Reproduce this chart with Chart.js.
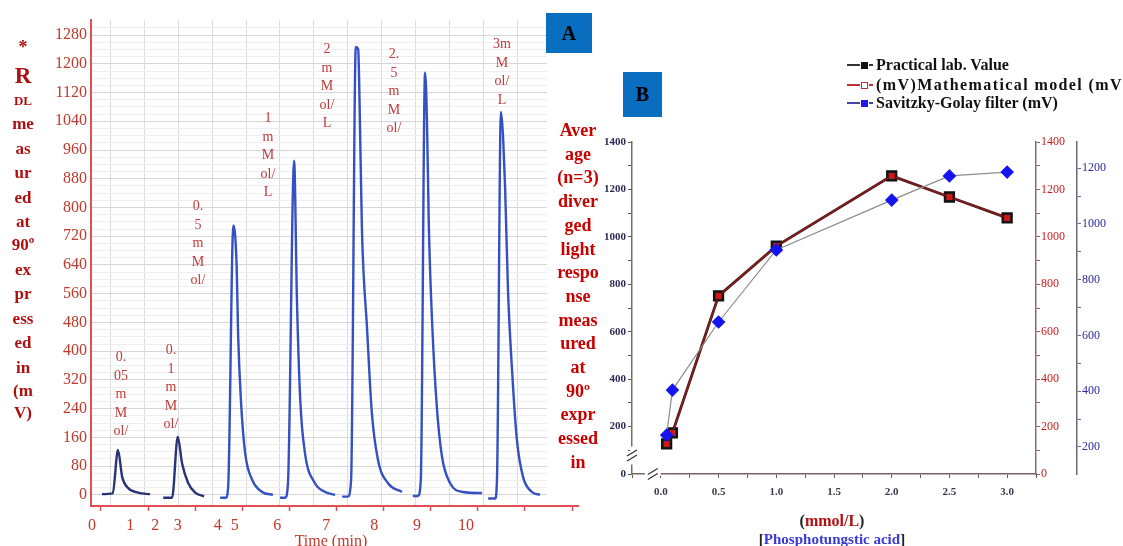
<!DOCTYPE html>
<html><head><meta charset="utf-8">
<script src="https://cdn.jsdelivr.net/npm/chart.js@4.4.1/dist/chart.umd.min.js"></script>
<style>
html,body{margin:0;padding:0;background:#fff;}
#wrap{position:relative;width:1123px;height:546px;overflow:hidden;font-family:"Liberation Serif","DejaVu Serif",serif;background:#fff;}
canvas{position:absolute;top:0;}
#cA{left:0;}
#cB{left:580px;}
.t{position:absolute;white-space:nowrap;transform:translate(-50%,-50%);line-height:1;}
.box{position:absolute;background:#0a6ec0;color:#000;font-weight:bold;display:flex;align-items:center;justify-content:center;font-size:20px;}
#cover{position:absolute;left:547px;top:0;width:40px;height:500px;background:#fff;}
.leg{position:absolute;left:847px;font-weight:bold;font-size:16px;color:#111;white-space:nowrap;display:flex;align-items:center;height:18px;}
.leg .ln{display:inline-block;width:13px;height:2px;margin-right:1px;}
.leg .sq{display:inline-block;width:7px;height:7px;box-sizing:border-box;}
.leg .ds{display:inline-block;width:4px;height:2px;margin:0 3px 0 1px;}
</style></head>
<body><div id="wrap">
<canvas id="cA" width="600" height="546"></canvas>
<div id="cover"></div>
<canvas id="cB" width="543" height="546"></canvas>
</div>
<script>
// ---------- Panel A : chromatogram peaks (time units of the axis, signal in mV) ----------
const timeP005 = [0.02, 0.25, 0.36, 0.45, 0.57, 0.79, 1.04];
const sigP005  = [2, 4, 125, 50, 20, 6, 2];
const timeP01  = [1.32, 1.51, 1.63, 1.72, 1.85, 2.00, 2.19];
const sigP01   = [-8, -8, 162, 89, 33, 6, -4];
const timeP05  = [2.53, 2.65, 2.70, 2.81, 2.88, 2.91, 2.97, 3.06, 3.21, 3.42, 3.65];
const sigP05   = [-8, -8, 22, 750, 637, 452, 265, 117, 42, 8, 0];
const timeP1   = [3.80, 3.91, 3.97, 4.10, 4.16, 4.23, 4.33, 4.54, 4.76, 4.97];
const sigP1    = [-8, -8, 33, 930, 544, 265, 117, 33, 8, 0];
const timeP2   = [5.12, 5.24, 5.31, 5.41, 5.46, 5.50, 5.54, 5.65, 5.75, 5.88, 6.09, 6.39];
const sigP2    = [-5, -5, 42, 1247, 1241, 1018, 739, 460, 229, 98, 33, 8];
const timeP25  = [6.62, 6.73, 6.79, 6.88, 6.92, 6.96, 7.03, 7.13, 7.24, 7.41, 7.69, 8.09];
const sigP25   = [-3, -3, 42, 1175, 1045, 750, 480, 245, 106, 33, 8, 5];
const timeP3   = [8.22, 8.37, 8.41, 8.49, 8.58, 8.64, 8.73, 8.83, 8.96, 9.15, 9.32];
const sigP3    = [-10, -10, 61, 1066, 851, 572, 340, 153, 50, 8, 0];

const yTicksA = [0,80,160,240,320,400,480,560,640,720,800,880,960,1040,1120,1200,1280];
const timeTickMarks = [0,1,2,3,4,5,6,7,8,9,10];
const timeLabelPos = [-0.19,0.62,1.15,1.63,2.48,2.84,3.74,4.78,5.80,6.71,7.75];
const timeLabels = ['0','1','2','3','4','5','6','7','8','9','10'];

// ---------- Panel B ----------
const concentration = [0.05, 0.1, 0.5, 1.0, 2.0, 2.5, 3.0];
const practicalLab  = [127, 173, 751, 961, 1257, 1168, 1080];
const mathModel     = [127, 173, 751, 961, 1257, 1168, 1080];
const savitzkyGolay = [164, 354, 641, 945, 1155, 1257, 1273];
const seriesNames = ['Practical lab. Value', '(mV)Mathematical model (mV)', 'Savitzky-Golay filter (mV)'];

const SERIF = '"Liberation Serif","DejaVu Serif",serif';

// ---------------- Chart A ----------------
const AX_MIN = -0.212, AX_MAX = 10.127, AY_MIN = -31, AY_MAX = 1322;
const peaks = [
  [timeP005, sigP005, '#2a3474'], [timeP01, sigP01, '#2a3474'], [timeP05, sigP05, '#3550c2'],
  [timeP1, sigP1, '#3550c2'], [timeP2, sigP2, '#3550c2'], [timeP25, sigP25, '#3550c2'], [timeP3, sigP3, '#3550c2']
];
new Chart(document.getElementById('cA'), {
  type: 'line',
  data: { datasets: peaks.map(p => ({
    data: p[0].map((t, i) => ({x: t, y: p[1][i]})),
    borderColor: p[2], borderWidth: 2.4, pointRadius: 0, fill: false,
    cubicInterpolationMode: 'monotone', xAxisID: 'x', yAxisID: 'y'
  })) },
  options: {
    responsive: false, animation: false, devicePixelRatio: 1,
    layout: { padding: { left: 46, top: 20, right: 22, bottom: 10 } },
    plugins: { legend: { display: false }, tooltip: { enabled: false } },
    scales: {
      x: { type: 'linear', min: AX_MIN, max: AX_MAX, bounds: 'data', position: 'bottom',
        grid: { drawOnChartArea: false, tickLength: 5, tickColor: '#e05050', tickWidth: 1.5 },
        border: { color: '#e05050', width: 2 },
        ticks: { display: false },
        afterBuildTicks: s => { s.ticks = timeTickMarks.map(v => ({value: v})); },
        afterFit: s => { s.height = 6; } },
      x2: { type: 'linear', min: AX_MIN, max: AX_MAX, bounds: 'data', position: 'bottom',
        grid: { display: false, drawTicks: false }, border: { display: false },
        ticks: { color: '#c0392b', font: { family: SERIF, size: 16 }, padding: 4, autoSkip: false, maxRotation: 0,
          callback: (v, i) => timeLabels[i] },
        afterBuildTicks: s => { s.ticks = timeLabelPos.map(v => ({value: v})); },
        afterFit: s => { s.height = 24; } },
      xg: { type: 'linear', min: AX_MIN, max: AX_MAX, bounds: 'data', position: 'bottom',
        grid: { color: '#dcdcdc', drawTicks: false }, border: { display: false },
        ticks: { display: false },
        afterBuildTicks: s => { const a = []; for (let v = 0.2; v < 9.5; v += 0.72) a.push({value: v}); s.ticks = a; },
        afterFit: s => { s.height = 0; } },
      y: { type: 'linear', min: AY_MIN, max: AY_MAX, bounds: 'data', position: 'left',
        grid: { color: '#d6d6d6', drawTicks: false },
        border: { color: '#e05050', width: 2 },
        ticks: { color: '#c0392b', font: { family: SERIF, size: 16 }, padding: 4, callback: v => String(v) },
        afterBuildTicks: s => { s.ticks = yTicksA.map(v => ({value: v})); },
        afterFit: s => { s.width = 45; } },
      yg: { type: 'linear', min: AY_MIN, max: AY_MAX, bounds: 'data', position: 'left',
        grid: { color: '#eeeeee', drawTicks: false }, border: { display: false },
        ticks: { display: false },
        afterBuildTicks: s => { const a = []; for (let v = 20; v < 1320; v += 20) if (v % 80) a.push({value: v}); s.ticks = a; },
        afterFit: s => { s.width = 0; } }
    }
  }
});

// ---------------- Chart B ----------------
const breakPlugin = {
  id: 'breaks',
  afterDraw(chart) {
    const c = chart.ctx, y = chart.scales.y, x = chart.scales.x;
    const ax = y.right, yb = y.getPixelForValue(78);
    const xb = x.getPixelForValue(-0.07), ay = x.top;
    c.save();
    c.fillStyle = '#fff';
    c.fillRect(ax - 2, yb - 9, 4, 18);
    c.fillRect(xb - 8, ay - 2, 16, 4);
    c.strokeStyle = '#333'; c.lineWidth = 1.3;
    [[ax, yb], [xb, ay]].forEach(([px, py]) => {
      [-2.5, 2.5].forEach(o => {
        c.beginPath(); c.moveTo(px - 5, py + 3 + o); c.lineTo(px + 5, py - 3 + o); c.stroke();
      });
    });
    c.restore();
  }
};
const tickFontB = { family: SERIF, size: 11, weight: 'bold' };
new Chart(document.getElementById('cB'), {
  type: 'line',
  data: { datasets: [
    { label: seriesNames[0], data: concentration.map((c, i) => ({x: c, y: practicalLab[i]})),
      borderColor: '#3a1c1c', borderWidth: 2.8, pointStyle: 'rect', pointRadius: 6,
      pointBackgroundColor: '#111', pointBorderColor: '#111', order: 2 },
    { label: seriesNames[1], data: concentration.map((c, i) => ({x: c, y: mathModel[i]})),
      borderColor: '#8e1b1b', borderWidth: 1.5, pointStyle: 'rect', pointRadius: 5,
      pointBackgroundColor: '#d01818', pointBorderColor: '#1a1a1a', pointBorderWidth: 1, order: 1 },
    { label: seriesNames[2], data: concentration.map((c, i) => ({x: c, y: savitzkyGolay[i]})),
      borderColor: '#8c8c8c', borderWidth: 1.2, pointStyle: 'rectRot', pointRadius: 6,
      pointBackgroundColor: '#1414f0', pointBorderColor: '#1414f0', order: 0 }
  ] },
  options: {
    responsive: false, animation: false, devicePixelRatio: 1,
    layout: { padding: { left: 12, top: 142, right: 6, bottom: 42 } },
    plugins: { legend: { display: false }, tooltip: { enabled: false } },
    scales: {
      x: { type: 'linear', min: -0.25, max: 3.25, bounds: 'data',
        grid: { drawOnChartArea: false, tickLength: 4, tickColor: '#6a5a5a' },
        border: { color: '#7a6464', width: 1.5 },
        ticks: { stepSize: 0.25, autoSkip: false, maxRotation: 0, color: '#3a3a4a', font: tickFontB, padding: 8,
          callback: v => (v >= 0 && Math.abs(v * 2 - Math.round(v * 2)) < 1e-6) ? v.toFixed(1) : '' },
        afterFit: s => { s.height = 30; } },
      y: { type: 'linear', position: 'left', min: 0, max: 1400, bounds: 'data',
        grid: { drawOnChartArea: false, tickLength: 4, tickColor: '#555' },
        border: { color: '#707070', width: 1.5 },
        ticks: { stepSize: 100, autoSkip: false, color: '#2a2a55', font: tickFontB, padding: 2,
          callback: v => v % 200 === 0 ? String(v) : '' },
        afterFit: s => { s.width = 40; } },
      y1: { type: 'linear', position: 'right', min: 0, max: 1400, bounds: 'data',
        grid: { drawOnChartArea: false, tickLength: 4, tickColor: '#8a6060' },
        border: { color: '#8a6a6a', width: 1.5 },
        ticks: { stepSize: 100, autoSkip: false, color: '#cc1a1a', font: { family: SERIF, size: 12 }, padding: 1,
          callback: v => v % 200 === 0 ? String(v) : '' },
        afterFit: s => { s.width = 41; } },
      y2: { type: 'linear', position: 'right', min: 103, max: 1294, bounds: 'data',
        grid: { drawOnChartArea: false, tickLength: 4, tickColor: '#6a6a7a' },
        border: { color: '#6a6a7a', width: 1.5 },
        ticks: { autoSkip: false, color: '#2b2ba0', font: { family: SERIF, size: 12 }, padding: 1,
          callback: v => v % 200 === 0 ? String(v) : '' },
        afterBuildTicks: s => { const a = []; for (let v = 200; v <= 1200; v += 100) a.push({value: v}); s.ticks = a; },
        afterFit: s => { s.width = 40; } }
    }
  },
  plugins: [breakPlugin]
});

// ---------------- Text overlays ----------------
const wrap = document.getElementById('wrap');
function txt(s, x, y, css) {
  const d = document.createElement('div');
  d.className = 't'; d.textContent = s;
  d.style.left = x + 'px'; d.style.top = y + 'px';
  Object.assign(d.style, css || {});
  wrap.appendChild(d); return d;
}
// left axis title of A
const leftTitle = [['*',47,18],['R',75,23],['DL',100,13],['me',123,17],['as',148,17],['ur',172,17],['ed',197,17],['at',221,17],
  ['90º',244,17],['ex',269,17],['pr',293,17],['ess',318,17],['ed',342,17],['in',367,17],['(m',390,17],['V)',412,17]];
leftTitle.forEach(([s, y, f]) => txt(s, 23, y, {fontWeight: 'bold', fontSize: f + 'px', color: '#ad1010'}));
// middle title
const midTitle = ['Aver','age','(n=3)','diver','ged','light','respo','nse','meas','ured','at','90º','expr','essed','in'];
midTitle.forEach((s, i) => txt(s, 578, 130 + i * 23.7, {fontWeight: 'bold', fontSize: '18px', color: '#c80000'}));
// peak labels
const peakLabels = [
  [121, 357, ['0.','05','m','M','ol/']],
  [171, 350, ['0.','1','m','M','ol/']],
  [198, 206, ['0.','5','m','M','ol/']],
  [268, 118, ['1','m','M','ol/','L']],
  [327, 49,  ['2','m','M','ol/','L']],
  [394, 54,  ['2.','5','m','M','ol/']],
  [502, 44,  ['3m','M','ol/','L']]
];
peakLabels.forEach(([x, y0, arr]) => arr.forEach((s, i) => txt(s, x, y0 + i * 18.5, {fontSize: '14px', color: '#c23a3a'})));
txt('Time (min)', 331, 541, {fontSize: '16px', color: '#c0392b'});
// boxes
const bA = document.createElement('div'); bA.className = 'box'; bA.textContent = 'A';
Object.assign(bA.style, {left: '546px', top: '13px', width: '46px', height: '40px'}); wrap.appendChild(bA);
const bB = document.createElement('div'); bB.className = 'box'; bB.textContent = 'B';
Object.assign(bB.style, {left: '623px', top: '72px', width: '39px', height: '45px'}); wrap.appendChild(bB);
// legend
const legendStyle = [['#333', '#111', '#111', '#333'], ['#c03030', '#fff', '#c03030', '#c03030'], ['#4646a8', '#1a1aee', '#1a1aee', '#4646a8']];
const legendSpacing = ['0px', '1.4px', '0px'];
[56, 76, 94].forEach((y, i) => {
  const d = document.createElement('div'); d.className = 'leg'; d.style.top = y + 'px';
  const [lc, fill, bc, dc] = legendStyle[i];
  d.innerHTML = '<span class="ln" style="background:' + lc + '"></span><span class="sq" style="background:' + fill +
    ';border:1.5px solid ' + bc + '"></span><span class="ds" style="background:' + dc + '"></span>';
  const sp = document.createElement('span'); sp.textContent = seriesNames[i]; sp.style.letterSpacing = legendSpacing[i];
  d.appendChild(sp);
  wrap.appendChild(d);
});
// x-axis title of B
const u = txt('', 832, 521, {fontWeight: 'bold', fontSize: '16px', color: '#222'});
u.innerHTML = '(<span style="color:#b01010">mmol/L</span>)';
const p = txt('', 832, 539, {fontWeight: 'bold', fontSize: '15px', color: '#222'});
p.innerHTML = '[<span style="color:#3a3ad6">Phosphotungstic acid</span>]';
</script>
</body></html>
